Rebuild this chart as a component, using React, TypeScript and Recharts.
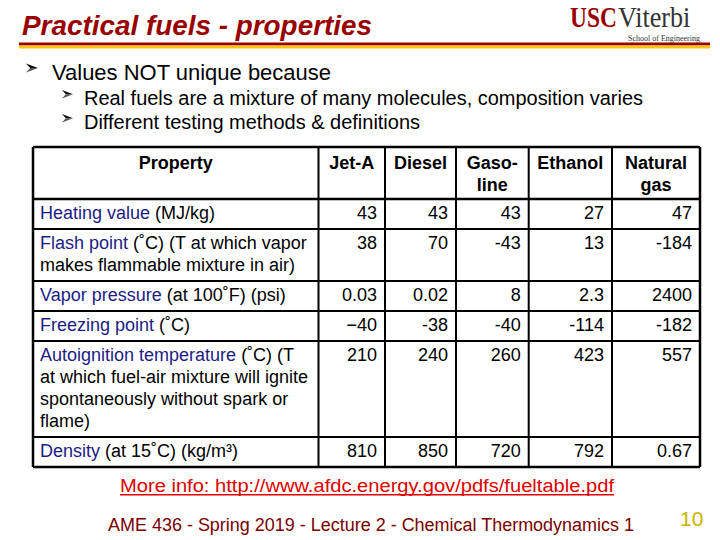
import React from 'react';
import { ScatterChart, Scatter, XAxis, YAxis, ReferenceLine } from 'recharts';

// table content
const headers = [['Property'], ['Jet-A'], ['Diesel'], ['Gaso-', 'line'], ['Ethanol'], ['Natural', 'gas']];
const propertyNames = ['Heating value', 'Flash point', 'Vapor pressure', 'Freezing point', 'Autoignition temperature', 'Density'];
const propertyLines = [
  ['Heating value (MJ/kg)'],
  ['Flash point (˚C) (T at which vapor', 'makes flammable mixture in air)'],
  ['Vapor pressure (at 100˚F) (psi)'],
  ['Freezing point (˚C)'],
  ['Autoignition temperature (˚C) (T', 'at which fuel-air mixture will ignite', 'spontaneously without spark or', 'flame)'],
  ['Density (at 15˚C) (kg/m³)'],
];
const jetA = ['43', '38', '0.03', '−40', '210', '810'];
const diesel = ['43', '70', '0.02', '-38', '240', '850'];
const gasoline = ['43', '-43', '8', '-40', '260', '720'];
const ethanol = ['27', '13', '2.3', '-114', '423', '792'];
const naturalGas = ['47', '-184', '2400', '-182', '557', '0.67'];
const fuelSeries = [jetA, diesel, gasoline, ethanol, naturalGas];

const bullets = ['Values NOT unique because'];
const subBullets = ['Real fuels are a mixture of many molecules, composition varies', 'Different testing methods & definitions'];

// layout
const COL_W = [285.5, 66.5, 71, 72.7, 83.3, 88];
const LINE_H = 22;
const ROW_PAD = 8;
const FONT = '"Liberation Sans", Arial, sans-serif';
const SERIF = '"Liberation Serif", "Times New Roman", serif';
const NAVY = '#1c1c84';
const DARK_RED = '#990000';

const colEdges = COL_W.reduce((acc, w) => [...acc, acc[acc.length - 1] + w], [0]);
const rowLineCounts = [2, ...propertyLines.map((l) => l.length)];
const rowEdges = rowLineCounts.reduce((acc, n) => [...acc, acc[acc.length - 1] + n * LINE_H + ROW_PAD], [0]);
const tableW = colEdges[colEdges.length - 1];
const tableH = rowEdges[rowEdges.length - 1];

const headerPoints = headers.map((lines, i) => ({ x: (colEdges[i] + colEdges[i + 1]) / 2, y: rowEdges[0], lines }));
const propertyPoints = propertyLines.map((lines, r) => ({ x: colEdges[0] + 7, y: rowEdges[r + 1], lines, name: propertyNames[r] }));
const fuelPoints = fuelSeries.map((vals, f) => vals.map((v, r) => ({ x: colEdges[f + 2] - 8, y: rowEdges[r + 1], lines: [v] })));

const headerShape = (props: any) => {
  const { cx, cy, payload } = props;
  return (
    <text textAnchor="middle" fontFamily={FONT} fontSize={18} fontWeight="bold" fill="#000">
      {payload.lines.map((l: string, i: number) => (
        <tspan key={i} x={cx} y={cy + 22 + i * LINE_H}>{l}</tspan>
      ))}
    </text>
  );
};

const propertyShape = (props: any) => {
  const { cx, cy, payload } = props;
  return (
    <text textAnchor="start" fontFamily={FONT} fontSize={18} fill="#000">
      {payload.lines.map((l: string, i: number) => {
        if (i === 0 && l.startsWith(payload.name)) {
          return (
            <React.Fragment key={i}>
              <tspan x={cx} y={cy + 20} fill={NAVY}>{payload.name}</tspan>
              <tspan>{l.slice(payload.name.length)}</tspan>
            </React.Fragment>
          );
        }
        return <tspan key={i} x={cx} y={cy + 20 + i * LINE_H}>{l}</tspan>;
      })}
    </text>
  );
};

const valueShape = (props: any) => {
  const { cx, cy, payload } = props;
  return (
    <text x={cx} y={cy + 20} textAnchor="end" fontFamily={FONT} fontSize={18} fill="#000">
      {payload.lines[0]}
    </text>
  );
};

// 3D-ish arrowhead bullet
const Arrow = ({ x, y, w, h }: { x: number; y: number; w: number; h: number }) => (
  <g>
    <polygon points={`${x},${y} ${x + w},${y + h / 2} ${x + w * 0.35},${y + h / 2}`} fill="#111" />
    <polygon points={`${x + w * 0.35},${y + h / 2} ${x + w},${y + h / 2} ${x},${y + h}`} fill="#555" />
  </g>
);

const Slide = () => (
  <svg width={720} height={540} style={{ position: 'absolute', left: 0, top: 0 }}>
    <rect width={720} height={540} fill="#fff" />
    <text x={22} y={35} fontFamily={FONT} fontSize={28} fontWeight="bold" fontStyle="italic" fill={DARK_RED}
      textLength={350} lengthAdjust="spacingAndGlyphs">Practical fuels - properties</text>
    <rect x={19} y={42.5} width={691} height={3} fill={DARK_RED} />
    <rect x={19} y={45.5} width={691} height={3} fill="#f5c518" />
    <text transform="translate(570,27) scale(0.78,1)" fontFamily={SERIF} fontSize={30} fontWeight="bold" fill={DARK_RED}>USC</text>
    <text transform="translate(618,27) scale(0.87,1)" fontFamily={SERIF} fontSize={30} fill="#333">Viterbi</text>
    <text x={628} y={41} fontFamily={SERIF} fontSize={8} fill="#333"
      textLength={72} lengthAdjust="spacingAndGlyphs">School of Engineering</text>

    {bullets.map((b, i) => (
      <g key={i}>
        <Arrow x={26} y={63.5} w={12} h={9} />
        <text x={52} y={80} fontFamily={FONT} fontSize={22} fill="#000" textLength={279} lengthAdjust="spacingAndGlyphs">{b}</text>
      </g>
    ))}
    {subBullets.map((b, i) => (
      <g key={i}>
        <Arrow x={62} y={90 + i * 24} w={11} h={8.5} />
        <text x={84} y={105 + i * 24} fontFamily={FONT} fontSize={20} fill="#000"
          textLength={i === 0 ? 559 : 336} lengthAdjust="spacingAndGlyphs">{b}</text>
      </g>
    ))}

    <text x={120} y={492} fontFamily={FONT} fontSize={18} fill="#e00000"
      textLength={494} lengthAdjust="spacingAndGlyphs">More info: http://www.afdc.energy.gov/pdfs/fueltable.pdf</text>
    <rect x={120} y={494} width={494} height={1.5} fill="#e00000" />
    <text x={108} y={531} fontFamily={FONT} fontSize={18} fill="#7a0000"
      textLength={526} lengthAdjust="spacingAndGlyphs">AME 436 - Spring 2019 - Lecture 2 - Chemical Thermodynamics 1</text>
    <text x={680} y={526} fontFamily={FONT} fontSize={21} fill="#c9b400">10</text>
  </svg>
);

export default function App() {
  return (
    <div style={{ position: 'absolute', left: 0, top: 0, width: 720, height: 540, background: '#fff' }}>
      <Slide />
      <div style={{ position: 'absolute', left: 0, top: 0 }}>
        <ScatterChart width={720} height={540} margin={{ top: 147, left: 33, right: 720 - 33 - tableW, bottom: 540 - 147 - tableH }}>
          <XAxis type="number" dataKey="x" domain={[0, tableW]} hide />
          <YAxis type="number" dataKey="y" domain={[0, tableH]} reversed hide />
          {colEdges.map((x, i) => (
            <ReferenceLine key={`c${i}`} x={x} stroke="#000" strokeWidth={i === 0 || i === colEdges.length - 1 ? 2.5 : 2} ifOverflow="visible" />
          ))}
          {rowEdges.map((y, i) => (
            <ReferenceLine key={`r${i}`} y={y} stroke="#000" strokeWidth={i <= 1 || i === rowEdges.length - 1 ? 2.5 : 2} ifOverflow="visible" />
          ))}
          <Scatter data={headerPoints} shape={headerShape} isAnimationActive={false} />
          <Scatter data={propertyPoints} shape={propertyShape} isAnimationActive={false} />
          {fuelPoints.map((pts, f) => (
            <Scatter key={f} data={pts} shape={valueShape} isAnimationActive={false} />
          ))}
        </ScatterChart>
      </div>
    </div>
  );
}
